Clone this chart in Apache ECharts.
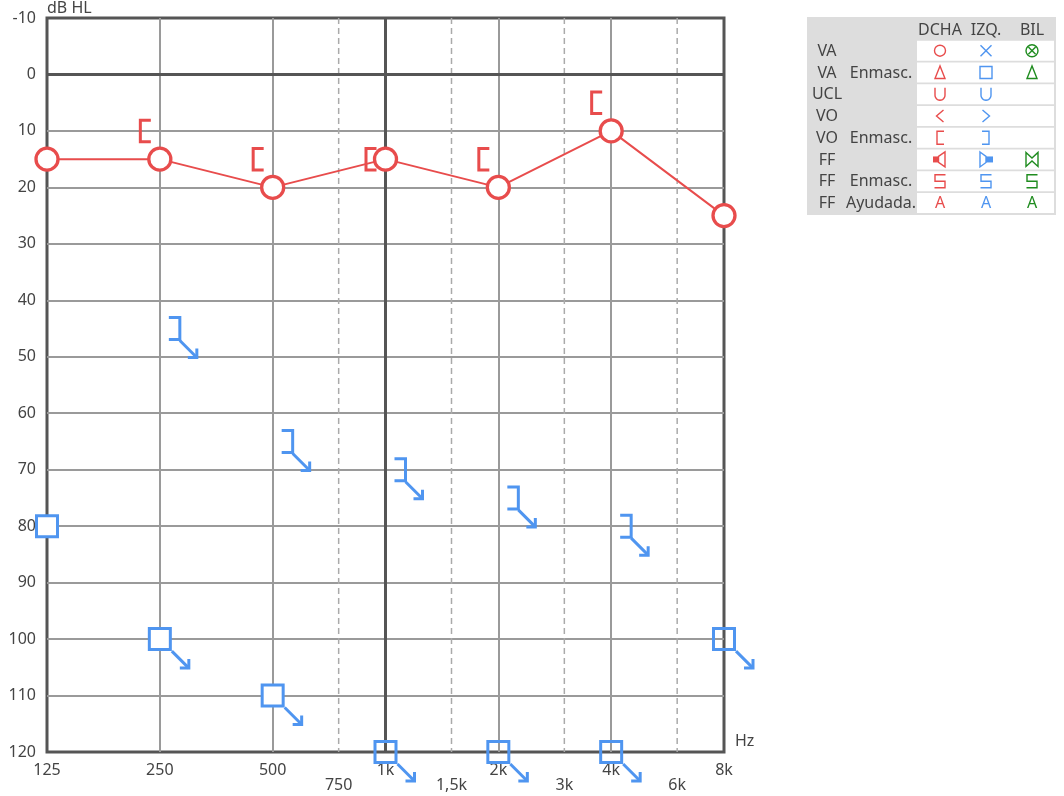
<!DOCTYPE html>
<html>
<head>
<meta charset="utf-8">
<script src="https://cdn.jsdelivr.net/npm/echarts@6/dist/echarts.min.js"></script>
<style>
html,body{margin:0;padding:0;background:#fff;}
#chart{width:1064px;height:796px;}
</style>
</head>
<body>
<div id="chart"></div>
<script>
// ---- data ----
const freqs = [125, 250, 500, 1000, 2000, 4000, 8000];
const freqLabels = ['125', '250', '500', '1k', '2k', '4k', '8k'];
const halfFreqs = [750, 1500, 3000, 6000];
const halfLabels = ['750', '1,5k', '3k', '6k'];
const dbMin = -10, dbMax = 120, dbStep = 10;
const refDb = 0;          // 0 dB HL reference line
const refFreq = 1000;     // 1 kHz reference line

// Right ear, air conduction (O)
const rightAC = [15, 15, 20, 15, 20, 10, 25];
// Right ear, bone conduction masked ([)
const rightBCMasked = [null, 10, 15, 15, 15, 5, null];
// Left ear, bone conduction masked (]) - no response
const leftBCMaskedNR = [null, 45, 65, 70, 75, 80, null];
// Left ear, air conduction masked (square)
const leftACMasked = [80, 100, 110, 120, 120, 120, 100];
const leftACMaskedNoResp = [false, true, true, true, true, true, true];

// ---- style ----
const RED = '#e84c4c', BLUE = '#4f95f0', GREEN = '#1f8c1f';
const DARK = '#555555', GRID = '#9a9a9a', TEXT = '#444444';
const FONT = 'Noto Sans';

const xPos = f => Math.log2(f / freqs[0]);
const X_MAX = xPos(freqs[freqs.length - 1]);

function arrowEls(sx, sy, color) {
  const tx = sx + 17, ty = sy + 17;
  return [
    { type: 'polyline', shape: { points: [[sx, sy], [tx, ty]] }, style: { stroke: color, lineWidth: 3, fill: null } },
    { type: 'polyline', shape: { points: [[tx - 9, ty], [tx, ty], [tx, ty - 9]] }, style: { stroke: color, lineWidth: 3, fill: null, lineJoin: 'miter' } }
  ];
}

// ---- legend table (decoration) ----
const legendRows = [
  ['VA', '', ['circle', 'x', 'circlex']],
  ['VA', 'Enmasc.', ['tri', 'square', 'tri']],
  ['UCL', '', ['u', 'u', null]],
  ['VO', '', ['lt', 'gt', null]],
  ['VO', 'Enmasc.', ['lbr', 'rbr', null]],
  ['FF', '', ['spkL', 'spkR', 'bow']],
  ['FF', 'Enmasc.', ['five', 'five', 'five']],
  ['FF', 'Ayudada.', ['A', 'A', 'A']]
];
const legendCols = ['DCHA', 'IZQ.', 'BIL'];
const legendColColors = [RED, BLUE, GREEN];

function txt(x, y, s, color, size) {
  return { type: 'text', x: x, y: y, style: { text: s, fill: color, font: (size || 16) + 'px "' + FONT + '"', align: 'center', verticalAlign: 'middle', textAlign: 'center', textVerticalAlign: 'middle' } };
}
function pl(points, color, closed, fill) {
  return { type: closed ? 'polygon' : 'polyline', shape: { points: points }, style: { stroke: color, lineWidth: 1.4, fill: fill || null } };
}
function legendSym(kind, c, cx, cy) {
  switch (kind) {
    case 'circle': return [{ type: 'circle', shape: { cx: cx, cy: cy, r: 5.5 }, style: { fill: null, stroke: c, lineWidth: 1.4 } }];
    case 'x': return [pl([[cx - 5.5, cy - 5.5], [cx + 5.5, cy + 5.5]], c), pl([[cx - 5.5, cy + 5.5], [cx + 5.5, cy - 5.5]], c)];
    case 'circlex': return [{ type: 'circle', shape: { cx: cx, cy: cy, r: 6 }, style: { fill: null, stroke: c, lineWidth: 1.4 } },
      pl([[cx - 3.6, cy - 3.6], [cx + 3.6, cy + 3.6]], c), pl([[cx - 3.6, cy + 3.6], [cx + 3.6, cy - 3.6]], c)];
    case 'tri': return [pl([[cx, cy - 6.5], [cx - 5, cy + 6], [cx + 5, cy + 6]], c, true)];
    case 'square': return [{ type: 'rect', shape: { x: cx - 6, y: cy - 6, width: 12, height: 12 }, style: { fill: null, stroke: c, lineWidth: 1.4 } }];
    case 'u': {
      const pts = [[cx - 5, cy - 6.5], [cx - 5, cy + 1]];
      for (let t = 1; t < 12; t++) { const a = Math.PI - Math.PI * t / 12; pts.push([cx + 5 * Math.cos(a), cy + 1 + 5 * Math.sin(a)]); }
      pts.push([cx + 5, cy + 1], [cx + 5, cy - 6.5]);
      return [pl(pts, c)];
    }
    case 'lt': return [pl([[cx + 3.5, cy - 6], [cx - 3.5, cy], [cx + 3.5, cy + 6]], c)];
    case 'gt': return [pl([[cx - 3.5, cy - 6], [cx + 3.5, cy], [cx - 3.5, cy + 6]], c)];
    case 'lbr': return [pl([[cx + 4, cy - 6.5], [cx - 3, cy - 6.5], [cx - 3, cy + 6.5], [cx + 4, cy + 6.5]], c)];
    case 'rbr': return [pl([[cx - 4, cy - 6.5], [cx + 3, cy - 6.5], [cx + 3, cy + 6.5], [cx - 4, cy + 6.5]], c)];
    case 'spkL': return [{ type: 'rect', shape: { x: cx - 7, y: cy - 3, width: 5.5, height: 6 }, style: { fill: c } },
      pl([[cx - 1.5, cy - 3], [cx + 5, cy - 7.5], [cx + 5, cy + 7.5], [cx - 1.5, cy + 3]], c, true)];
    case 'spkR': return [pl([[cx - 6, cy - 7.5], [cx, cy - 3], [cx, cy + 3], [cx - 6, cy + 7.5]], c, true),
      { type: 'rect', shape: { x: cx, y: cy - 3, width: 7, height: 6 }, style: { fill: c } }];
    case 'bow': return [pl([[cx - 6, cy - 7], [cx, cy - 1.5], [cx + 6, cy - 7], [cx + 6, cy + 7], [cx, cy + 1.5], [cx - 6, cy + 7]], c, true)];
    case 'five': return [pl([[cx + 5.5, cy - 6.5], [cx - 5, cy - 6.5], [cx - 5, cy], [cx + 5, cy], [cx + 5, cy + 6.5], [cx - 5.5, cy + 6.5]], c)];
    case 'A': return [txt(cx, cy + 0.5, 'A', c, 16)];
  }
  return [];
}
function buildLegend() {
  const els = [];
  els.push({ type: 'rect', shape: { x: 807, y: 17, width: 249, height: 198 }, style: { fill: '#dddddd' } });
  const colX = [940, 986, 1032];
  legendCols.forEach((h, i) => els.push(txt(colX[i], 30, h, TEXT)));
  legendRows.forEach((r, i) => {
    const top = 40.7 + i * 21.75, cy = top + 10;
    els.push({ type: 'rect', shape: { x: 917, y: top, width: 137, height: 20 }, style: { fill: '#ffffff' } });
    els.push(txt(827, cy + 0.5, r[0], TEXT));
    if (r[1]) els.push(txt(881, cy + 0.5, r[1], TEXT));
    r[2].forEach((k, j) => { if (k) legendSym(k, legendColColors[j], colX[j], cy).forEach(e => els.push(e)); });
  });
  return els;
}

const chart = echarts.init(document.getElementById('chart'));
const option = {
  animation: false,
  textStyle: { fontFamily: FONT },
  grid: { left: 47, right: 340, top: 18, bottom: 44, show: true, borderColor: DARK, borderWidth: 3, backgroundColor: 'transparent' },
  xAxis: {
    type: 'value', min: 0, max: X_MAX, interval: 1,
    name: 'Hz', nameLocation: 'end', nameGap: 11,
    nameTextStyle: { color: TEXT, fontSize: 16, align: 'left', verticalAlign: 'bottom', padding: [0, 0, 3, 0] },
    axisLine: { show: false, onZero: false }, axisTick: { show: false },
    axisLabel: { color: TEXT, fontSize: 16, margin: 10, formatter: v => { const i = Math.round(v); return freqLabels[i] !== undefined ? freqLabels[i] : ''; } },
    splitLine: { show: true, showMinLine: false, showMaxLine: false, lineStyle: { color: GRID, width: 2 } }
  },
  yAxis: {
    type: 'value', inverse: true, min: dbMin, max: dbMax, interval: dbStep,
    name: 'dB HL', nameLocation: 'start', nameGap: 2,
    nameTextStyle: { color: TEXT, fontSize: 16, align: 'left', verticalAlign: 'bottom' },
    axisLine: { show: false, onZero: false }, axisTick: { show: false },
    axisLabel: { color: TEXT, fontSize: 16, margin: 11 },
    splitLine: { show: true, showMinLine: false, showMaxLine: false, lineStyle: { color: GRID, width: 2 } }
  },
  graphic: buildLegend(),
  series: [
    { // half-octave dashed lines and their labels
      type: 'custom', z: 1, clip: false, silent: true,
      data: halfFreqs.map((f, i) => [xPos(f), dbMin, i]),
      renderItem: (params, api) => {
        const x = api.value(0), i = api.value(2);
        const a = api.coord([x, dbMin]), b = api.coord([x, dbMax]);
        return { type: 'group', children: [
          { type: 'line', shape: { x1: a[0], y1: a[1], x2: b[0], y2: b[1] }, style: { stroke: '#aaaaaa', lineWidth: 1.5, lineDash: [6, 4] } },
          { type: 'text', x: b[0], y: b[1] + 33, style: { text: halfLabels[i], fill: TEXT, font: '16px "' + FONT + '"', align: 'center', verticalAlign: 'middle' } }
        ] };
      }
    },
    { // dark reference lines (0 dB HL, 1 kHz)
      type: 'custom', z: 1, clip: false, silent: true,
      data: [[0, refDb, 0], [xPos(refFreq), dbMin, 1]],
      renderItem: (params, api) => {
        const kind = api.value(2);
        let a, b;
        if (kind === 0) { a = api.coord([0, api.value(1)]); b = api.coord([X_MAX, api.value(1)]); }
        else { a = api.coord([api.value(0), dbMin]); b = api.coord([api.value(0), dbMax]); }
        return { type: 'line', shape: { x1: a[0], y1: a[1], x2: b[0], y2: b[1] }, style: { stroke: DARK, lineWidth: 3 } };
      }
    },
    { // left AC masked (squares)
      name: 'VA Enmasc. IZQ.', type: 'custom', z: 2, clip: false,
      data: leftACMasked.map((v, i) => [xPos(freqs[i]), v, leftACMaskedNoResp[i] ? 1 : 0]),
      renderItem: (params, api) => {
        const x = api.value(0), y = api.value(1), nr = api.value(2);
        const c = api.coord([x, y]);
        const edge = x >= X_MAX - 1e-9 || y >= dbMax;
        const ch = [{ type: 'rect', shape: { x: c[0] - 10.5, y: c[1] - 10.5, width: 21, height: 21 }, style: { fill: edge ? null : '#ffffff', stroke: BLUE, lineWidth: 3 } }];
        if (nr) arrowEls(c[0] + 12, c[1] + 12, BLUE).forEach(e => ch.push(e));
        return { type: 'group', children: ch };
      }
    },
    { // left BC masked, no response (])
      name: 'VO Enmasc. IZQ.', type: 'custom', z: 3, clip: false,
      data: leftBCMaskedNR.map((v, i) => [xPos(freqs[i]), v]).filter(d => d[1] !== null),
      renderItem: (params, api) => {
        const c = api.coord([api.value(0), api.value(1)]);
        const ch = [{ type: 'polyline', shape: { points: [[c[0] + 9, c[1] - 11], [c[0] + 20, c[1] - 11], [c[0] + 20, c[1] + 11], [c[0] + 9, c[1] + 11]] }, style: { stroke: BLUE, lineWidth: 3, fill: null } }];
        arrowEls(c[0] + 20, c[1] + 12, BLUE).forEach(e => ch.push(e));
        return { type: 'group', children: ch };
      }
    },
    { // right BC masked ([)
      name: 'VO Enmasc. DCHA', type: 'custom', z: 3, clip: false,
      data: rightBCMasked.map((v, i) => [xPos(freqs[i]), v]).filter(d => d[1] !== null),
      renderItem: (params, api) => {
        const c = api.coord([api.value(0), api.value(1)]);
        return { type: 'polyline', shape: { points: [[c[0] - 9, c[1] - 10.75], [c[0] - 19.5, c[1] - 10.75], [c[0] - 19.5, c[1] + 10.75], [c[0] - 9, c[1] + 10.75]] }, style: { stroke: RED, lineWidth: 3, fill: null } };
      }
    },
    { // right AC (O)
      name: 'VA DCHA', type: 'line', z: 4, clip: false,
      data: rightAC.map((v, i) => [xPos(freqs[i]), v]),
      symbol: 'circle', symbolSize: 22, showAllSymbol: true,
      itemStyle: { color: '#ffffff', borderColor: RED, borderWidth: 3.3 },
      lineStyle: { color: RED, width: 2 },
      emphasis: { disabled: true }
    }
  ]
};
chart.setOption(option);
</script>
</body>
</html>
